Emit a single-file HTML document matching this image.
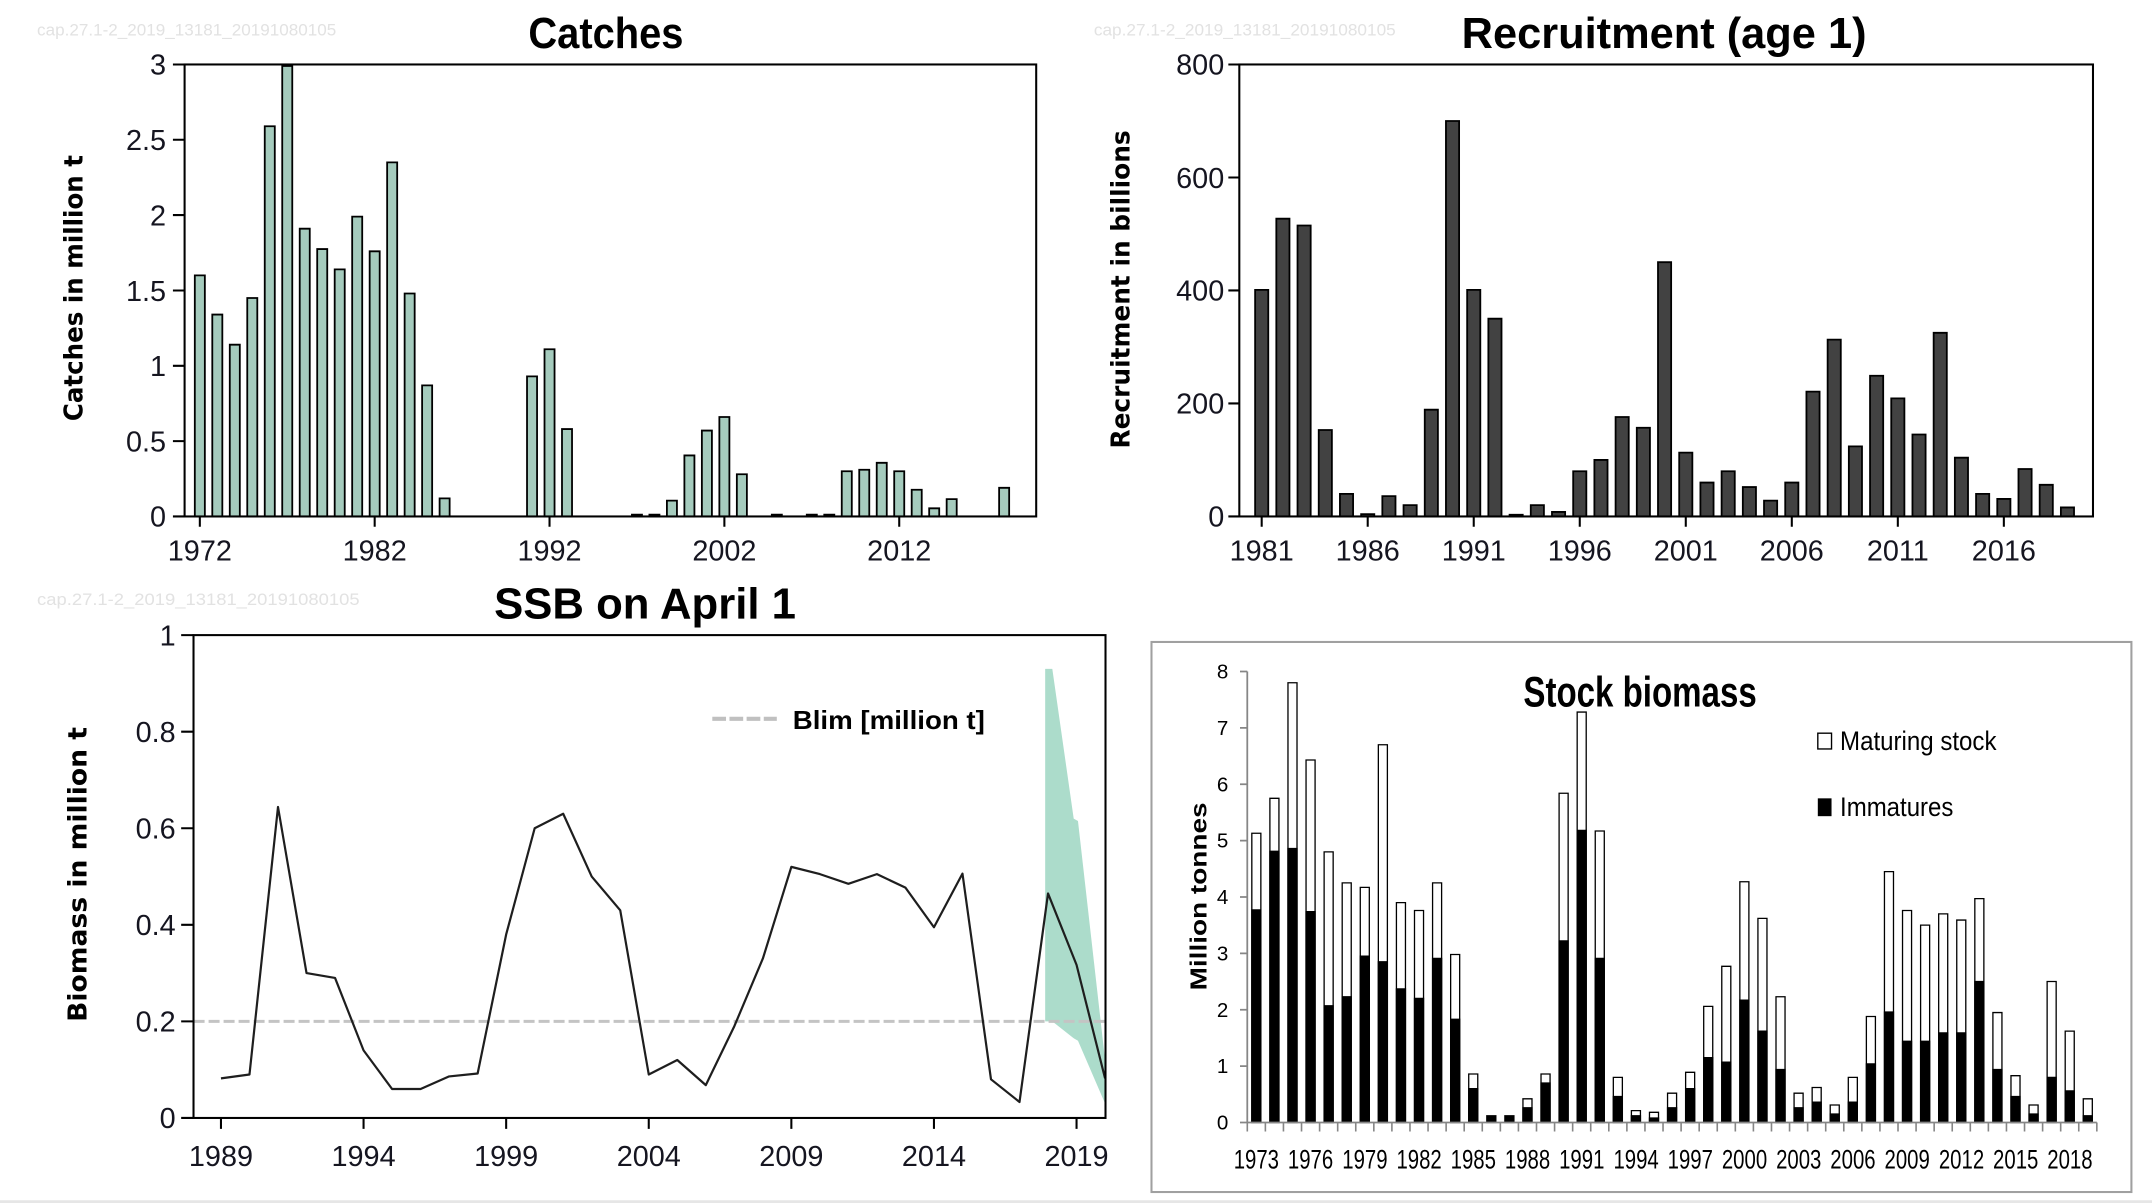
<!DOCTYPE html>
<html><head><meta charset="utf-8">
<style>
html,body{margin:0;padding:0;background:#fff;}
svg{display:block;}
.ns rect,.ns path,.ns polyline,.ns polygon{vector-effect:non-scaling-stroke;}
text{font-family:"Liberation Sans",Arial,sans-serif;}
.tk{font-size:21px;fill:#151520;}
.ttl{font-size:32px;font-weight:bold;fill:#000;}
.yl{font-family:"DejaVu Sans","Liberation Sans",sans-serif;font-weight:bold;font-size:19px;fill:#000;}
.wm{font-size:12px;fill:#e2e2e2;}
.sk{font-size:19.5px;fill:#000;}
</style></head>
<body>
<svg width="2152" height="1203" viewBox="0 0 1568 877" preserveAspectRatio="none" xmlns="http://www.w3.org/2000/svg">
<rect x="0" y="0" width="1568" height="877" fill="#fff"/>
<rect x="0" y="875" width="1568" height="2" fill="#e6e6e6"/>

<!-- ================= CATCHES ================= -->
<text class="wm" x="27" y="26" textLength="218" lengthAdjust="spacingAndGlyphs">cap.27.1-2_2019_13181_20191080105</text>
<text class="ttl" x="441.5" y="35" text-anchor="middle" textLength="113" lengthAdjust="spacingAndGlyphs">Catches</text>
<g class="ns" transform="translate(145.6,376.5) scale(12.74,-109.83)" fill="#a5cbbd" stroke="#000" stroke-width="1.8">
<rect x="-0.287" y="0" width="0.574" height="1.60"/>
<rect x="0.713" y="0" width="0.574" height="1.34"/>
<rect x="1.713" y="0" width="0.574" height="1.14"/>
<rect x="2.713" y="0" width="0.574" height="1.45"/>
<rect x="3.713" y="0" width="0.574" height="2.59"/>
<rect x="4.713" y="0" width="0.574" height="2.99"/>
<rect x="5.713" y="0" width="0.574" height="1.91"/>
<rect x="6.713" y="0" width="0.574" height="1.775"/>
<rect x="7.713" y="0" width="0.574" height="1.64"/>
<rect x="8.713" y="0" width="0.574" height="1.99"/>
<rect x="9.713" y="0" width="0.574" height="1.76"/>
<rect x="10.713" y="0" width="0.574" height="2.35"/>
<rect x="11.713" y="0" width="0.574" height="1.48"/>
<rect x="12.713" y="0" width="0.574" height="0.87"/>
<rect x="13.713" y="0" width="0.574" height="0.12"/>
<rect x="18.713" y="0" width="0.574" height="0.93"/>
<rect x="19.713" y="0" width="0.574" height="1.11"/>
<rect x="20.713" y="0" width="0.574" height="0.58"/>
<rect x="24.713" y="0" width="0.574" height="0.012"/>
<rect x="25.713" y="0" width="0.574" height="0.012"/>
<rect x="26.713" y="0" width="0.574" height="0.105"/>
<rect x="27.713" y="0" width="0.574" height="0.405"/>
<rect x="28.713" y="0" width="0.574" height="0.57"/>
<rect x="29.713" y="0" width="0.574" height="0.66"/>
<rect x="30.713" y="0" width="0.574" height="0.28"/>
<rect x="32.713" y="0" width="0.574" height="0.012"/>
<rect x="34.713" y="0" width="0.574" height="0.012"/>
<rect x="35.713" y="0" width="0.574" height="0.012"/>
<rect x="36.713" y="0" width="0.574" height="0.30"/>
<rect x="37.713" y="0" width="0.574" height="0.31"/>
<rect x="38.713" y="0" width="0.574" height="0.356"/>
<rect x="39.713" y="0" width="0.574" height="0.30"/>
<rect x="40.713" y="0" width="0.574" height="0.177"/>
<rect x="41.713" y="0" width="0.574" height="0.054"/>
<rect x="42.713" y="0" width="0.574" height="0.115"/>
<rect x="45.713" y="0" width="0.574" height="0.19"/>
</g>
<rect x="134.5" y="47" width="620.5" height="329.5" fill="none" stroke="#000" stroke-width="1.5"/>
<path d="M126 376.5H134.5M126 321.6H134.5M126 266.7H134.5M126 211.8H134.5M126 156.8H134.5M126 101.9H134.5M126 47H134.5M145.6 376.5V384M273 376.5V384M400.4 376.5V384M527.8 376.5V384M655.2 376.5V384" stroke="#000" stroke-width="1.5" fill="none"/>
<g class="tk" text-anchor="end">
<text x="121" y="384">0</text>
<text x="121" y="329.1">0.5</text>
<text x="121" y="274.2">1</text>
<text x="121" y="219.3">1.5</text>
<text x="121" y="164.3">2</text>
<text x="121" y="109.4">2.5</text>
<text x="121" y="54.5">3</text>
</g>
<g class="tk" text-anchor="middle">
<text x="145.6" y="408.5">1972</text>
<text x="273" y="408.5">1982</text>
<text x="400.4" y="408.5">1992</text>
<text x="527.8" y="408.5">2002</text>
<text x="655.2" y="408.5">2012</text>
</g>
<text class="yl" transform="translate(60,210) rotate(-90)" text-anchor="middle" textLength="194" lengthAdjust="spacingAndGlyphs">Catches in million t</text>

<!-- ================= RECRUITMENT ================= -->
<text class="wm" x="797" y="26" textLength="220" lengthAdjust="spacingAndGlyphs">cap.27.1-2_2019_13181_20191080105</text>
<text class="ttl" x="1212.5" y="35" text-anchor="middle" textLength="295" lengthAdjust="spacingAndGlyphs">Recruitment (age 1)</text>
<g class="ns" transform="translate(919.3,376.5) scale(15.45,-0.41188)" fill="#424242" stroke="#000" stroke-width="1.8">
<rect x="-0.31" y="0" width="0.62" height="401"/>
<rect x="0.69" y="0" width="0.62" height="527"/>
<rect x="1.69" y="0" width="0.62" height="515"/>
<rect x="2.69" y="0" width="0.62" height="153"/>
<rect x="3.69" y="0" width="0.62" height="40"/>
<rect x="4.69" y="0" width="0.62" height="4"/>
<rect x="5.69" y="0" width="0.62" height="36"/>
<rect x="6.69" y="0" width="0.62" height="20"/>
<rect x="7.69" y="0" width="0.62" height="189"/>
<rect x="8.69" y="0" width="0.62" height="700"/>
<rect x="9.69" y="0" width="0.62" height="401"/>
<rect x="10.69" y="0" width="0.62" height="350"/>
<rect x="11.69" y="0" width="0.62" height="3"/>
<rect x="12.69" y="0" width="0.62" height="20"/>
<rect x="13.69" y="0" width="0.62" height="8"/>
<rect x="14.69" y="0" width="0.62" height="80"/>
<rect x="15.69" y="0" width="0.62" height="100"/>
<rect x="16.69" y="0" width="0.62" height="176"/>
<rect x="17.69" y="0" width="0.62" height="157"/>
<rect x="18.69" y="0" width="0.62" height="450"/>
<rect x="19.69" y="0" width="0.62" height="113"/>
<rect x="20.69" y="0" width="0.62" height="60"/>
<rect x="21.69" y="0" width="0.62" height="80"/>
<rect x="22.69" y="0" width="0.62" height="52"/>
<rect x="23.69" y="0" width="0.62" height="28"/>
<rect x="24.69" y="0" width="0.62" height="60"/>
<rect x="25.69" y="0" width="0.62" height="221"/>
<rect x="26.69" y="0" width="0.62" height="313"/>
<rect x="27.69" y="0" width="0.62" height="124"/>
<rect x="28.69" y="0" width="0.62" height="249"/>
<rect x="29.69" y="0" width="0.62" height="209"/>
<rect x="30.69" y="0" width="0.62" height="145"/>
<rect x="31.69" y="0" width="0.62" height="325"/>
<rect x="32.69" y="0" width="0.62" height="104"/>
<rect x="33.69" y="0" width="0.62" height="40"/>
<rect x="34.69" y="0" width="0.62" height="31"/>
<rect x="35.69" y="0" width="0.62" height="84"/>
<rect x="36.69" y="0" width="0.62" height="56"/>
<rect x="37.69" y="0" width="0.62" height="16"/>
</g>
<rect x="903" y="47" width="622" height="329.5" fill="none" stroke="#000" stroke-width="1.5"/>
<path d="M895 376.5H903M895 294.1H903M895 211.75H903M895 129.4H903M895 47H903M919.3 376.5V384M996.55 376.5V384M1073.8 376.5V384M1151.05 376.5V384M1228.3 376.5V384M1305.55 376.5V384M1382.8 376.5V384M1460.05 376.5V384" stroke="#000" stroke-width="1.5" fill="none"/>
<g class="tk" text-anchor="end">
<text x="892" y="384">0</text>
<text x="892" y="301.6">200</text>
<text x="892" y="219.25">400</text>
<text x="892" y="136.9">600</text>
<text x="892" y="54.5">800</text>
</g>
<g class="tk" text-anchor="middle">
<text x="919.3" y="408.5">1981</text>
<text x="996.55" y="408.5">1986</text>
<text x="1073.8" y="408.5">1991</text>
<text x="1151.05" y="408.5">1996</text>
<text x="1228.3" y="408.5">2001</text>
<text x="1305.55" y="408.5">2006</text>
<text x="1382.8" y="408.5">2011</text>
<text x="1460.05" y="408.5">2016</text>
</g>
<text class="yl" transform="translate(823,211) rotate(-90)" text-anchor="middle" textLength="232" lengthAdjust="spacingAndGlyphs">Recruitment in billions</text>

<!-- ================= SSB ================= -->
<text class="wm" x="27" y="441" textLength="235" lengthAdjust="spacingAndGlyphs">cap.27.1-2_2019_13181_20191080105</text>
<text class="ttl" x="470" y="451" text-anchor="middle" textLength="220" lengthAdjust="spacingAndGlyphs">SSB on April 1</text>
<g class="ns" transform="translate(161,815) scale(20.78,-352)">
<polygon points="28.9,0.93 29.15,0.93 29.9,0.62 30.05,0.615 31,0.12 31,0.03 30.05,0.16 29.9,0.165 29.15,0.2 28.9,0.2" fill="#acdccb" stroke="none"/>
<path d="M-0.96 0.2H31" stroke="#c4c4c4" stroke-width="3" stroke-dasharray="11 4" fill="none"/>
<polyline fill="none" stroke="#1e1e1e" stroke-width="2.2" stroke-linejoin="round" points="0,0.082 1,0.09 2,0.644 3,0.30 4,0.29 5,0.14 6,0.06 7,0.06 8,0.086 9,0.092 10,0.38 11,0.60 12,0.63 13,0.50 14,0.43 15,0.09 16,0.12 17,0.068 18,0.19 19,0.33 20,0.52 21,0.505 22,0.485 23,0.505 24,0.477 25,0.395 26,0.506 27,0.08 28,0.033 29,0.465 30,0.317 31,0.082"/>
</g>
<rect x="141" y="463" width="664.5" height="352" fill="none" stroke="#000" stroke-width="1.5"/>
<path d="M132 815H141M132 744.6H141M132 674.2H141M132 603.8H141M132 533.4H141M132 463H141M161 815V823M264.9 815V823M368.8 815V823M472.7 815V823M576.6 815V823M680.5 815V823M784.4 815V823" stroke="#000" stroke-width="1.5" fill="none"/>
<g class="tk" text-anchor="end">
<text x="128" y="822.5">0</text>
<text x="128" y="752.1">0.2</text>
<text x="128" y="681.7">0.4</text>
<text x="128" y="611.3">0.6</text>
<text x="128" y="540.9">0.8</text>
<text x="128" y="470.5">1</text>
</g>
<g class="tk" text-anchor="middle">
<text x="161" y="850">1989</text>
<text x="264.9" y="850">1994</text>
<text x="368.8" y="850">1999</text>
<text x="472.7" y="850">2004</text>
<text x="576.6" y="850">2009</text>
<text x="680.5" y="850">2014</text>
<text x="784.4" y="850">2019</text>
</g>
<path d="M519 524H566" stroke="#c0c0c0" stroke-width="3" stroke-dasharray="10 2.5" fill="none"/>
<text x="577.6" y="531.4" font-size="19" font-weight="bold" fill="#000" textLength="140" lengthAdjust="spacingAndGlyphs">Blim [million t]</text>
<text class="yl" transform="translate(63,637.5) rotate(-90)" text-anchor="middle" textLength="215" lengthAdjust="spacingAndGlyphs">Biomass in million t</text>

<!-- ================= STOCK BIOMASS ================= -->
<rect x="839" y="468" width="714" height="401" fill="none" stroke="#a0a0a0" stroke-width="1.5"/>
<g class="ns" transform="translate(915.4,818.3) scale(13.17,-41.1)" stroke="#000" stroke-width="1.3">
<g fill="#fff">
<rect x="-0.25" y="0" width="0.5" height="5.13"/>
<rect x="0.75" y="0" width="0.5" height="5.75"/>
<rect x="1.75" y="0" width="0.5" height="7.80"/>
<rect x="2.75" y="0" width="0.5" height="6.43"/>
<rect x="3.75" y="0" width="0.5" height="4.80"/>
<rect x="4.75" y="0" width="0.5" height="4.25"/>
<rect x="5.75" y="0" width="0.5" height="4.17"/>
<rect x="6.75" y="0" width="0.5" height="6.70"/>
<rect x="7.75" y="0" width="0.5" height="3.90"/>
<rect x="8.75" y="0" width="0.5" height="3.76"/>
<rect x="9.75" y="0" width="0.5" height="4.25"/>
<rect x="10.75" y="0" width="0.5" height="2.98"/>
<rect x="11.75" y="0" width="0.5" height="0.86"/>
<rect x="14.75" y="0" width="0.5" height="0.42"/>
<rect x="15.75" y="0" width="0.5" height="0.86"/>
<rect x="16.75" y="0" width="0.5" height="5.84"/>
<rect x="17.75" y="0" width="0.5" height="7.28"/>
<rect x="18.75" y="0" width="0.5" height="5.17"/>
<rect x="19.75" y="0" width="0.5" height="0.80"/>
<rect x="20.75" y="0" width="0.5" height="0.21"/>
<rect x="21.75" y="0" width="0.5" height="0.18"/>
<rect x="22.75" y="0" width="0.5" height="0.52"/>
<rect x="23.75" y="0" width="0.5" height="0.89"/>
<rect x="24.75" y="0" width="0.5" height="2.06"/>
<rect x="25.75" y="0" width="0.5" height="2.77"/>
<rect x="26.75" y="0" width="0.5" height="4.27"/>
<rect x="27.75" y="0" width="0.5" height="3.62"/>
<rect x="28.75" y="0" width="0.5" height="2.23"/>
<rect x="29.75" y="0" width="0.5" height="0.52"/>
<rect x="30.75" y="0" width="0.5" height="0.62"/>
<rect x="31.75" y="0" width="0.5" height="0.31"/>
<rect x="32.75" y="0" width="0.5" height="0.80"/>
<rect x="33.75" y="0" width="0.5" height="1.88"/>
<rect x="34.75" y="0" width="0.5" height="4.45"/>
<rect x="35.75" y="0" width="0.5" height="3.76"/>
<rect x="36.75" y="0" width="0.5" height="3.50"/>
<rect x="37.75" y="0" width="0.5" height="3.70"/>
<rect x="38.75" y="0" width="0.5" height="3.59"/>
<rect x="39.75" y="0" width="0.5" height="3.97"/>
<rect x="40.75" y="0" width="0.5" height="1.95"/>
<rect x="41.75" y="0" width="0.5" height="0.83"/>
<rect x="42.75" y="0" width="0.5" height="0.31"/>
<rect x="43.75" y="0" width="0.5" height="2.50"/>
<rect x="44.75" y="0" width="0.5" height="1.62"/>
<rect x="45.75" y="0" width="0.5" height="0.42"/>
</g>
<g fill="#000">
<rect x="-0.25" y="0" width="0.5" height="3.77"/>
<rect x="0.75" y="0" width="0.5" height="4.81"/>
<rect x="1.75" y="0" width="0.5" height="4.86"/>
<rect x="2.75" y="0" width="0.5" height="3.74"/>
<rect x="3.75" y="0" width="0.5" height="2.07"/>
<rect x="4.75" y="0" width="0.5" height="2.23"/>
<rect x="5.75" y="0" width="0.5" height="2.95"/>
<rect x="6.75" y="0" width="0.5" height="2.85"/>
<rect x="7.75" y="0" width="0.5" height="2.37"/>
<rect x="8.75" y="0" width="0.5" height="2.20"/>
<rect x="9.75" y="0" width="0.5" height="2.91"/>
<rect x="10.75" y="0" width="0.5" height="1.83"/>
<rect x="11.75" y="0" width="0.5" height="0.60"/>
<rect x="12.75" y="0" width="0.5" height="0.12"/>
<rect x="13.75" y="0" width="0.5" height="0.12"/>
<rect x="14.75" y="0" width="0.5" height="0.26"/>
<rect x="15.75" y="0" width="0.5" height="0.70"/>
<rect x="16.75" y="0" width="0.5" height="3.22"/>
<rect x="17.75" y="0" width="0.5" height="5.18"/>
<rect x="18.75" y="0" width="0.5" height="2.91"/>
<rect x="19.75" y="0" width="0.5" height="0.46"/>
<rect x="20.75" y="0" width="0.5" height="0.12"/>
<rect x="21.75" y="0" width="0.5" height="0.08"/>
<rect x="22.75" y="0" width="0.5" height="0.26"/>
<rect x="23.75" y="0" width="0.5" height="0.60"/>
<rect x="24.75" y="0" width="0.5" height="1.15"/>
<rect x="25.75" y="0" width="0.5" height="1.07"/>
<rect x="26.75" y="0" width="0.5" height="2.17"/>
<rect x="27.75" y="0" width="0.5" height="1.62"/>
<rect x="28.75" y="0" width="0.5" height="0.94"/>
<rect x="29.75" y="0" width="0.5" height="0.26"/>
<rect x="30.75" y="0" width="0.5" height="0.36"/>
<rect x="31.75" y="0" width="0.5" height="0.15"/>
<rect x="32.75" y="0" width="0.5" height="0.36"/>
<rect x="33.75" y="0" width="0.5" height="1.04"/>
<rect x="34.75" y="0" width="0.5" height="1.96"/>
<rect x="35.75" y="0" width="0.5" height="1.44"/>
<rect x="36.75" y="0" width="0.5" height="1.44"/>
<rect x="37.75" y="0" width="0.5" height="1.59"/>
<rect x="38.75" y="0" width="0.5" height="1.59"/>
<rect x="39.75" y="0" width="0.5" height="2.50"/>
<rect x="40.75" y="0" width="0.5" height="0.94"/>
<rect x="41.75" y="0" width="0.5" height="0.46"/>
<rect x="42.75" y="0" width="0.5" height="0.15"/>
<rect x="43.75" y="0" width="0.5" height="0.80"/>
<rect x="44.75" y="0" width="0.5" height="0.56"/>
<rect x="45.75" y="0" width="0.5" height="0.12"/>
</g>
<path stroke="#868686" stroke-width="1.6" fill="none" d="M-0.5 0V-0.16M0.5 0V-0.16M1.5 0V-0.16M2.5 0V-0.16M3.5 0V-0.16M4.5 0V-0.16M5.5 0V-0.16M6.5 0V-0.16M7.5 0V-0.16M8.5 0V-0.16M9.5 0V-0.16M10.5 0V-0.16M11.5 0V-0.16M12.5 0V-0.16M13.5 0V-0.16M14.5 0V-0.16M15.5 0V-0.16M16.5 0V-0.16M17.5 0V-0.16M18.5 0V-0.16M19.5 0V-0.16M20.5 0V-0.16M21.5 0V-0.16M22.5 0V-0.16M23.5 0V-0.16M24.5 0V-0.16M25.5 0V-0.16M26.5 0V-0.16M27.5 0V-0.16M28.5 0V-0.16M29.5 0V-0.16M30.5 0V-0.16M31.5 0V-0.16M32.5 0V-0.16M33.5 0V-0.16M34.5 0V-0.16M35.5 0V-0.16M36.5 0V-0.16M37.5 0V-0.16M38.5 0V-0.16M39.5 0V-0.16M40.5 0V-0.16M41.5 0V-0.16M42.5 0V-0.16M43.5 0V-0.16M44.5 0V-0.16M45.5 0V-0.16M46.5 0V-0.16"/>
</g>
<path d="M904.5 818.3H1527.8M908.8 489.5V818.3M903.5 818.3H908.8M903.5 777.2H908.8M903.5 736.1H908.8M903.5 695H908.8M903.5 653.9H908.8M903.5 612.8H908.8M903.5 571.7H908.8M903.5 530.6H908.8M903.5 489.5H908.8" stroke="#868686" stroke-width="1.3" fill="none"/>
<g font-size="15" fill="#000" text-anchor="end">
<text x="895" y="823.5">0</text>
<text x="895" y="782.4">1</text>
<text x="895" y="741.3">2</text>
<text x="895" y="700.2">3</text>
<text x="895" y="659.1">4</text>
<text x="895" y="618">5</text>
<text x="895" y="576.9">6</text>
<text x="895" y="535.8">7</text>
<text x="895" y="494.7">8</text>
</g>
<g class="sk" text-anchor="middle">
<text x="915.4" y="852" textLength="33" lengthAdjust="spacingAndGlyphs">1973</text>
<text x="954.9" y="852" textLength="33" lengthAdjust="spacingAndGlyphs">1976</text>
<text x="994.5" y="852" textLength="33" lengthAdjust="spacingAndGlyphs">1979</text>
<text x="1034" y="852" textLength="33" lengthAdjust="spacingAndGlyphs">1982</text>
<text x="1073.5" y="852" textLength="33" lengthAdjust="spacingAndGlyphs">1985</text>
<text x="1113" y="852" textLength="33" lengthAdjust="spacingAndGlyphs">1988</text>
<text x="1152.5" y="852" textLength="33" lengthAdjust="spacingAndGlyphs">1991</text>
<text x="1192.1" y="852" textLength="33" lengthAdjust="spacingAndGlyphs">1994</text>
<text x="1231.6" y="852" textLength="33" lengthAdjust="spacingAndGlyphs">1997</text>
<text x="1271.1" y="852" textLength="33" lengthAdjust="spacingAndGlyphs">2000</text>
<text x="1310.6" y="852" textLength="33" lengthAdjust="spacingAndGlyphs">2003</text>
<text x="1350.1" y="852" textLength="33" lengthAdjust="spacingAndGlyphs">2006</text>
<text x="1389.6" y="852" textLength="33" lengthAdjust="spacingAndGlyphs">2009</text>
<text x="1429.2" y="852" textLength="33" lengthAdjust="spacingAndGlyphs">2012</text>
<text x="1468.7" y="852" textLength="33" lengthAdjust="spacingAndGlyphs">2015</text>
<text x="1508.2" y="852" textLength="33" lengthAdjust="spacingAndGlyphs">2018</text>
</g>
<text x="1195" y="515" font-size="31" font-weight="bold" fill="#000" text-anchor="middle" textLength="170" lengthAdjust="spacingAndGlyphs">Stock biomass</text>
<rect x="1324.5" y="534.5" width="10" height="11.5" fill="#fff" stroke="#000" stroke-width="1"/>
<text class="sk" x="1340.7" y="546.6" textLength="114" lengthAdjust="spacingAndGlyphs">Maturing stock</text>
<rect x="1324.5" y="582" width="10" height="13" fill="#000"/>
<text class="sk" x="1340.7" y="595" textLength="82.6" lengthAdjust="spacingAndGlyphs">Immatures</text>
<text transform="translate(879,653.5) rotate(-90)" text-anchor="middle" font-family="DejaVu Sans, Liberation Sans, sans-serif" font-weight="bold" font-size="17" fill="#000" textLength="137" lengthAdjust="spacingAndGlyphs">Million tonnes</text>
</svg>
</body></html>
